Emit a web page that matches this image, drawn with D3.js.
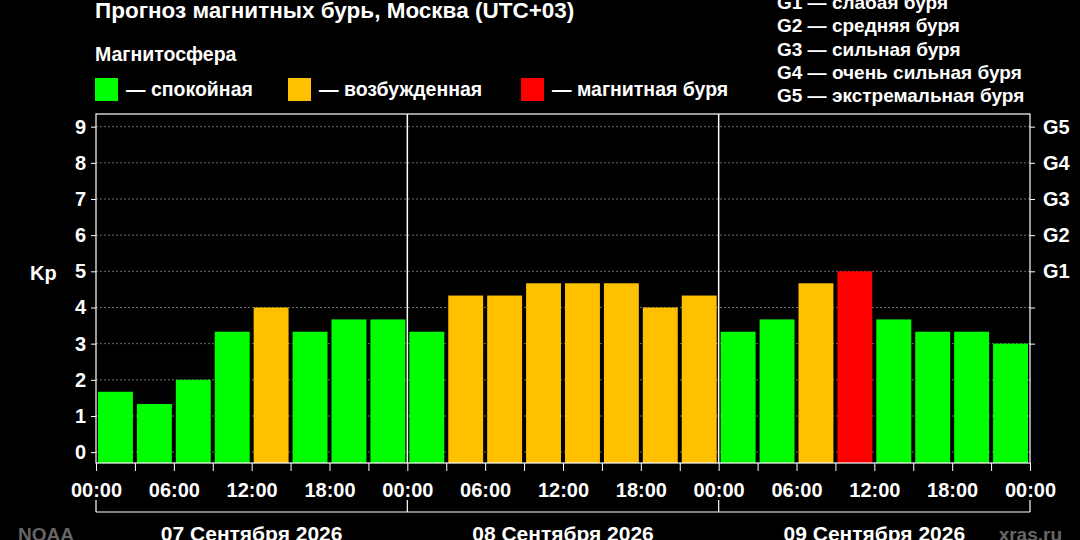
<!DOCTYPE html>
<html><head><meta charset="utf-8">
<script src="https://cdn.jsdelivr.net/npm/d3@7"></script>
<style>body{margin:0;background:#000}svg{display:block}text{font-family:"Liberation Sans",Arial,sans-serif;font-weight:bold;fill:#fff}</style>
</head><body><svg id="c" width="1080" height="540"></svg>
<script>
const kpValues=[1.67,1.33,2,3.33,4,3.33,3.67,3.67, 3.33,4.33,4.33,4.67,4.67,4.67,4,4.33, 3.33,3.67,4.67,5,3.67,3.33,3.33,3];
const hourLabels=["00:00","06:00","12:00","18:00","00:00","06:00","12:00","18:00","00:00","06:00","12:00","18:00","00:00"];
const dayLabels=["07 Сентября 2026","08 Сентября 2026","09 Сентября 2026"];
const gLabels=["G1","G2","G3","G4","G5"];
const gLegend=["G1 — слабая буря","G2 — средняя буря","G3 — сильная буря","G4 — очень сильная буря","G5 — экстремальная буря"];
const legendItems=[["— спокойная","#00ff00"],["— возбужденная","#ffc000"],["— магнитная буря","#ff0000"]];

const svg=d3.select("#c");
const L=96,R=1030,T=114,B=463;
const x=d3.scaleLinear().domain([0,72]).range([L,R]);
const y=d3.scaleLinear().domain([-0.3,9.35]).range([B,T]);
const color=v=>v>=5?"#ff0000":v>=4?"#ffc000":"#00ff00";

svg.append("text").attr("x",95).attr("y",18).attr("font-size",22.5).text("Прогноз магнитных бурь, Москва (UTC+03)");
svg.append("text").attr("x",95).attr("y",61).attr("font-size",19.5).text("Магнитосфера");
const lx=[95,288,521];
legendItems.forEach((d,i)=>{
  svg.append("rect").attr("x",lx[i]).attr("y",78).attr("width",23).attr("height",23).attr("fill",d[1]);
  svg.append("text").attr("x",lx[i]+31).attr("y",96).attr("font-size",19.5).text(d[0]);
});
gLegend.forEach((t,i)=>svg.append("text").attr("x",777).attr("y",9+i*23.3).attr("font-size",19).text(t));

const ticks=d3.range(0,10);
svg.append("g").selectAll("line").data(ticks).join("line")
 .attr("x1",L).attr("x2",R).attr("y1",d=>y(d)).attr("y2",d=>y(d))
 .attr("stroke","#888").attr("stroke-dasharray","2,2").attr("stroke-width",0.8);

svg.append("g").selectAll("rect").data(kpValues).join("rect")
 .attr("x",(d,i)=>x(i*3)+2).attr("width",x(3)-x(0)-4)
 .attr("y",d=>y(d)).attr("height",d=>B-y(d)).attr("fill",color);

[24,48].forEach(h=>svg.append("line").attr("x1",x(h)).attr("x2",x(h)).attr("y1",T).attr("y2",B).attr("stroke","#fff").attr("stroke-width",1.5));
svg.append("rect").attr("x",L).attr("y",T).attr("width",R-L).attr("height",B-T).attr("fill","none").attr("stroke","#fff").attr("stroke-width",1.2);

const la=svg.append("g").attr("transform",`translate(${L},0)`).call(d3.axisLeft(y).tickValues(ticks).tickSize(5).tickFormat(d3.format("d")));
la.select(".domain").remove();
la.selectAll("line").attr("stroke","#fff");
la.selectAll("text").attr("font-size",20).attr("fill","#fff").attr("x",-10);
svg.append("text").attr("x",30).attr("y",y(4.75)).attr("font-size",20).text("Kp");

const ra=svg.append("g").attr("transform",`translate(${R},0)`).call(d3.axisRight(y).tickValues(d3.range(3,10)).tickSize(5).tickFormat(d=>d>=5?gLabels[d-5]:""));
ra.select(".domain").remove();
ra.selectAll("line").attr("stroke","#fff");
ra.selectAll("text").attr("font-size",20).attr("fill","#fff").attr("x",13);

const ba=svg.append("g").attr("transform",`translate(0,${B})`).call(d3.axisBottom(x).tickValues(d3.range(0,73,3)).tickSize(8).tickFormat(d=>d%6===0?hourLabels[d/6]:""));
ba.select(".domain").remove();
ba.selectAll("line").attr("stroke","#fff");
ba.selectAll("text").attr("font-size",20).attr("fill","#fff").attr("y",20);

const by=512;
svg.append("line").attr("x1",x(0)).attr("x2",x(72)).attr("y1",by).attr("y2",by).attr("stroke","#fff").attr("stroke-width",1.2);
[0,24,48,72].forEach(h=>svg.append("line").attr("x1",x(h)).attr("x2",x(h)).attr("y1",by-12).attr("y2",by).attr("stroke","#fff").attr("stroke-width",1.2));
dayLabels.forEach((t,i)=>svg.append("text").attr("x",x(i*24+12)).attr("y",541).attr("text-anchor","middle").attr("font-size",21).text(t));
svg.append("text").attr("x",18).attr("y",541).attr("font-size",19).style("fill","#666").text("NOAA");
svg.append("text").attr("x",1062).attr("y",541).attr("text-anchor","end").attr("font-size",19).style("fill","#666").text("xras.ru");
</script></body></html>
